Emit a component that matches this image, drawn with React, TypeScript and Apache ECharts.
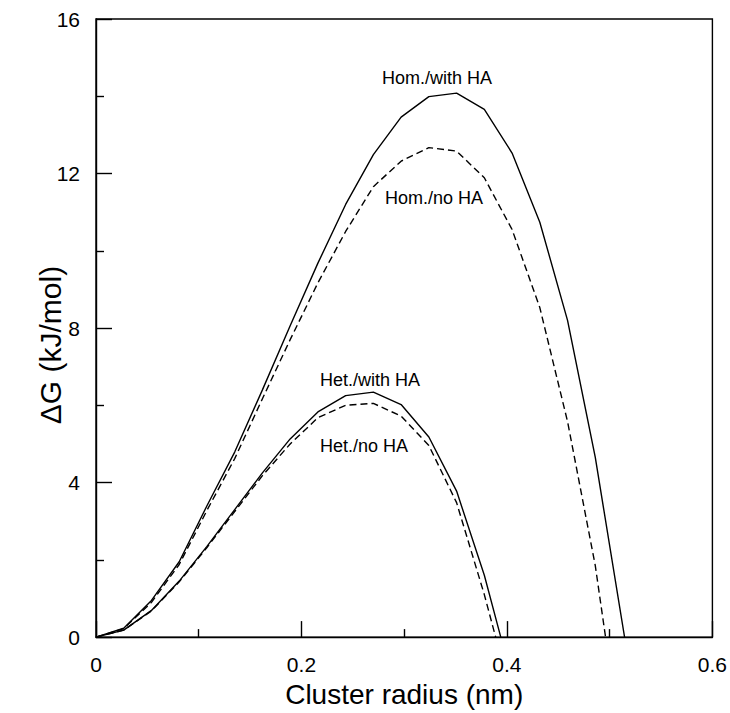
import React, { useEffect, useRef } from "react";
import * as echarts from "echarts";

// Cluster radius (nm) sample points
const radiusHomWith = [0, 0.027, 0.054, 0.081, 0.108, 0.135, 0.162, 0.189, 0.216, 0.243, 0.27, 0.297, 0.324, 0.351, 0.378, 0.405, 0.432, 0.459, 0.486, 0.5145];
const radiusHomNo = [0, 0.027, 0.054, 0.081, 0.108, 0.135, 0.162, 0.189, 0.216, 0.243, 0.27, 0.297, 0.324, 0.351, 0.378, 0.405, 0.432, 0.459, 0.486, 0.496];
const radiusHetWith = [0, 0.027, 0.054, 0.081, 0.108, 0.135, 0.162, 0.189, 0.216, 0.243, 0.27, 0.297, 0.324, 0.351, 0.378, 0.394];
const radiusHetNo = [0, 0.027, 0.054, 0.081, 0.108, 0.135, 0.162, 0.189, 0.216, 0.243, 0.27, 0.297, 0.324, 0.351, 0.378, 0.389];

// ΔG (kJ/mol)
const dgHomWith = [0, 0.23, 0.95, 1.95, 3.4, 4.79, 6.4, 8.06, 9.68, 11.2, 12.49, 13.46, 13.99, 14.08, 13.66, 12.53, 10.74, 8.2, 4.65, 0];
const dgHomNo = [0, 0.22, 0.9, 1.88, 3.28, 4.62, 6.17, 7.7, 9.17, 10.5, 11.66, 12.32, 12.67, 12.58, 11.89, 10.55, 8.53, 5.58, 1.85, 0];
const dgHetWith = [0, 0.18, 0.69, 1.45, 2.35, 3.3, 4.25, 5.13, 5.83, 6.25, 6.34, 6.02, 5.18, 3.78, 1.6, 0];
const dgHetNo = [0, 0.18, 0.68, 1.43, 2.32, 3.25, 4.18, 5.0, 5.68, 6.0, 6.05, 5.72, 4.96, 3.48, 1.1, 0];

const curveLabels = ["Hom./with HA", "Hom./no HA", "Het./with HA", "Het./no HA"];
const xTitle = "Cluster radius (nm)";
const yTitle = "ΔG (kJ/mol)";

const FONT = "'Liberation Sans', Arial, Helvetica, sans-serif";

function pairs(xs: number[], ys: number[]) {
  return xs.map((x, i) => [x, ys[i]]);
}

export default function App() {
  const ref = useRef<HTMLDivElement>(null);
  useEffect(() => {
    if (!ref.current) return;
    const chart = echarts.init(ref.current, undefined, { renderer: "svg" });
    const solid = { color: "#000", width: 1.4, type: "solid" as const };
    const dashed = { color: "#000", width: 1.4, type: [7, 4] as any };
    chart.setOption({
      animation: false,
      backgroundColor: "#fff",
      grid: {
        left: 96,
        top: 19,
        width: 616.5,
        height: 620,
        show: true,
        borderColor: "#000",
        borderWidth: 1.4,
        backgroundColor: "transparent",
      },
      xAxis: {
        type: "value",
        min: 0,
        max: 0.6,
        interval: 0.2,
        name: xTitle,
        nameLocation: "middle",
        nameGap: 33,
        nameTextStyle: { color: "#000", fontSize: 28, fontFamily: FONT },
        axisLine: { show: true, lineStyle: { color: "#000", width: 1.4 } },
        axisTick: { show: true, inside: true, length: 16, lineStyle: { color: "#000", width: 1.4 } },
        minorTick: { show: true, splitNumber: 2, length: 8, lineStyle: { color: "#000", width: 1.4 } },
        splitLine: { show: false },
        axisLabel: {
          color: "#000",
          fontSize: 21,
          fontFamily: FONT,
          margin: 17,
          formatter: (v: number) => (v === 0 ? "0" : String(Math.round(v * 10) / 10)),
        },
      },
      yAxis: {
        type: "value",
        min: 0,
        max: 16,
        interval: 4,
        axisLine: { show: true, lineStyle: { color: "#000", width: 1.4 } },
        axisTick: { show: true, inside: true, length: 16, lineStyle: { color: "#000", width: 1.4 } },
        minorTick: { show: true, splitNumber: 2, length: 8, lineStyle: { color: "#000", width: 1.4 } },
        splitLine: { show: false },
        axisLabel: { color: "#000", fontSize: 21, fontFamily: FONT, margin: 16 },
      },
      series: [
        { type: "line", data: pairs(radiusHomWith, dgHomWith), showSymbol: false, lineStyle: solid, z: 3 },
        { type: "line", data: pairs(radiusHomNo, dgHomNo), showSymbol: false, lineStyle: dashed, z: 3 },
        { type: "line", data: pairs(radiusHetWith, dgHetWith), showSymbol: false, lineStyle: solid, z: 3 },
        { type: "line", data: pairs(radiusHetNo, dgHetNo), showSymbol: false, lineStyle: dashed, z: 3 },
      ],
      graphic: [
        {
          type: "text",
          x: 50,
          y: 345,
          rotation: Math.PI / 2,
          style: { text: yTitle, fill: "#000", font: `30px ${FONT}`, align: "center", verticalAlign: "middle" },
        },
        { type: "text", left: 382, top: 69, style: { text: curveLabels[0], fill: "#000", font: `18px ${FONT}` } },
        { type: "text", left: 385, top: 189, style: { text: curveLabels[1], fill: "#000", font: `18px ${FONT}` } },
        { type: "text", left: 320, top: 371, style: { text: curveLabels[2], fill: "#000", font: `18px ${FONT}` } },
        { type: "text", left: 320, top: 437, style: { text: curveLabels[3], fill: "#000", font: `18px ${FONT}` } },
      ],
    });
    return () => chart.dispose();
  }, []);
  return <div ref={ref} style={{ width: 730, height: 713, position: "absolute", left: 0, top: 0 }} />;
}
